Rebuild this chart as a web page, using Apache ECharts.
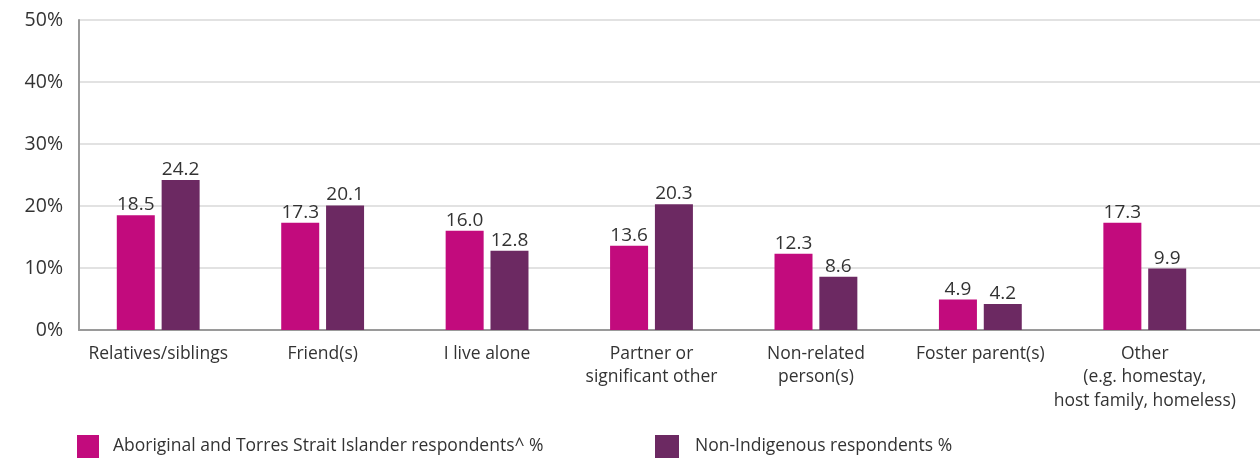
<!DOCTYPE html>
<html><head><meta charset="utf-8">
<script src="https://cdn.jsdelivr.net/npm/echarts@6/dist/echarts.min.js"></script>
<style>html,body{margin:0;padding:0;background:#fff}#c{width:1260px;height:464px}</style>
</head><body><div id="c"></div>
<script>
const categories = ["Relatives/siblings","Friend(s)","I live alone","Partner or\nsignificant other","Non-related\nperson(s)","Foster parent(s)","Other\n(e.g. homestay,\nhost family, homeless)"];
const aboriginal = [18.5,17.3,16.0,13.6,12.3,4.9,17.3];
const nonIndigenous = [24.2,20.1,12.8,20.3,8.6,4.2,9.9];
const seriesNames = ["Aboriginal and Torres Strait Islander respondents^ %","Non-Indigenous respondents %"];
const yTicks = {min:0,max:50,interval:10};

const FONT = "'Open Sans', sans-serif";
const chart = echarts.init(document.getElementById('c'));
const lbl = {show:true,position:'top',distance:1,color:'#333',fontSize:19,fontFamily:FONT,formatter:p=>p.value.toFixed(1)};
chart.setOption({
  animation:false,
  grid:[
    {left:79,right:0,top:20,bottom:134},
    {left:76,right:33,top:20,bottom:134}
  ],
  xAxis:[
    {gridIndex:0,type:'value',min:0,max:1,axisLabel:{show:false},axisTick:{show:false},splitLine:{show:false},
     axisLine:{show:true,lineStyle:{color:'#9a9a9a',width:2}}},
    {gridIndex:1,type:'category',data:categories,axisLine:{show:false},axisTick:{show:false},
     axisLabel:{color:'#333',fontSize:17.5,fontFamily:FONT,lineHeight:23.5,margin:12,interval:0}}
  ],
  yAxis:[
    {gridIndex:0,type:'value',min:yTicks.min,max:yTicks.max,interval:yTicks.interval,
     axisLine:{show:true,lineStyle:{color:'#9a9a9a',width:2}},axisTick:{show:false},
     splitLine:{show:true,lineStyle:{color:'#e2e2e2',width:2}},
     axisLabel:{formatter:'{value}%',color:'#333',fontSize:19.5,fontFamily:FONT,margin:16}},
    {gridIndex:1,type:'value',min:yTicks.min,max:yTicks.max,interval:yTicks.interval,show:false}
  ],
  legend:[
    {data:[seriesNames[0]],left:77,top:435,padding:0,itemWidth:22,itemHeight:23,itemGap:0,
     textStyle:{color:'#333',fontSize:17.5,fontFamily:FONT,padding:[6,0,0,9]},icon:'rect'},
    {data:[seriesNames[1]],left:655,top:435,padding:0,itemWidth:24,itemHeight:23,itemGap:0,
     textStyle:{color:'#333',fontSize:17.5,fontFamily:FONT,padding:[6,0,0,11]},icon:'rect'}
  ],
  series:[
    {name:seriesNames[0],type:'bar',xAxisIndex:1,yAxisIndex:1,data:aboriginal,barWidth:38,barGap:'18%',
     itemStyle:{color:'#C20B7D'},label:lbl},
    {name:seriesNames[1],type:'bar',xAxisIndex:1,yAxisIndex:1,data:nonIndigenous,barWidth:38,barGap:'18%',
     itemStyle:{color:'#6C2962'},label:lbl}
  ]
});
</script></body></html>
